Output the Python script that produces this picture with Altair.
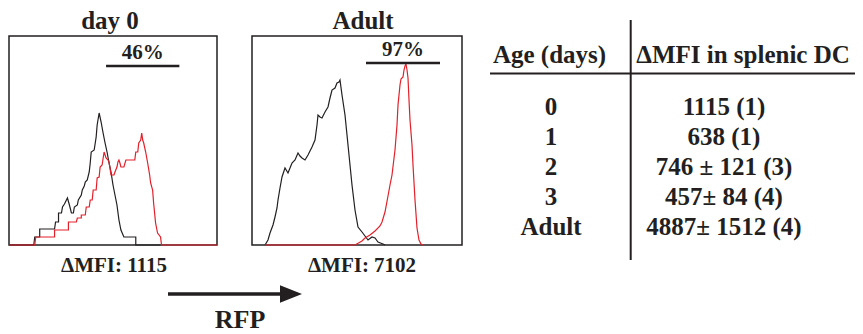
import altair as alt
import pandas as pd

# ---------------- data ----------------
# Histogram panels: x = RFP fluorescence channel (0-210), y = cell count (0-209)
day0_iso_x = [0, 25, 26, 31, 31, 46, 47, 50, 50, 53, 54, 56, 59, 61, 63, 65, 66, 69, 70, 73, 74, 76, 77, 79,
              81, 82, 83, 86, 88, 89, 91, 93, 95, 97, 99, 101, 103, 105, 107, 109, 111, 113, 116, 128, 128, 153]
day0_iso_y = [0, 0, 8, 8, 16, 16, 23, 23, 32, 32, 38, 41, 47, 40, 32, 32, 38, 40, 45, 50, 55, 59, 63, 65,
              73, 82, 93, 95, 108, 120, 132, 123, 112, 102, 93, 82, 73, 60, 50, 40, 25, 15, 8, 8, 0, 0]

day0_rfp_x = [0, 26, 27, 46, 46, 60, 60, 68, 69, 73, 73, 77, 78, 81, 82, 84, 85, 88, 89, 91, 92, 94, 96, 98,
              100, 101, 103, 106, 107, 109, 110, 111, 112, 113, 116, 118, 127, 128, 130, 131, 133, 134, 135,
              136, 138, 140, 142, 143, 145, 146, 148, 150, 153, 154, 210]
day0_rfp_y = [0, 0, 8, 8, 15, 15, 23, 23, 27, 27, 30, 30, 38, 38, 45, 45, 55, 55, 67, 68, 78, 80, 93, 87,
              85, 83, 70, 70, 73, 78, 83, 85, 82, 78, 78, 85, 85, 93, 93, 102, 105, 112, 105,
              102, 93, 82, 70, 62, 55, 42, 22, 12, 8, 0, 0]

adult_iso_x = [13, 16, 18, 21, 23, 25, 26, 28, 30, 33, 36, 38, 40, 43, 46, 48, 50, 53, 56, 58, 60, 63, 65,
               66, 68, 70, 73, 76, 78, 80, 83, 85, 87, 88, 90, 93, 96, 98, 100, 103, 106, 110, 113, 116,
               120, 123, 126, 131, 133]
adult_iso_y = [0, 5, 12, 20, 28, 37, 45, 57, 68, 77, 72, 77, 82, 85, 92, 89, 87, 85, 90, 94, 98, 105, 120,
               130, 128, 127, 133, 138, 147, 155, 157, 162, 163, 165, 150, 130, 100, 80, 60, 35, 18, 13, 9, 5,
               8, 7, 3, 1, 0]

adult_rfp_x = [13, 103, 110, 113, 118, 123, 128, 130, 133, 136, 138, 140, 143, 145, 146, 148, 149, 151, 152,
               153, 154, 155, 156, 157, 158, 160, 161, 163, 165, 167, 169, 171]
adult_rfp_y = [0, 0, 4, 7, 10, 14, 19, 23, 33, 49, 60, 70, 95, 120, 140, 160, 166, 168, 175,
               179, 181, 175, 167, 145, 125, 100, 80, 45, 17, 5, 1, 0]

# Positive gates (channel range, drawn at a count level) and their percentages
gate_start = [98, 114]
gate_end = [172, 188]
gate_level = [179, 182]
gate_pct = ["46%", "97%"]

panel_titles = ["day 0", "Adult"]
panel_dmfi = ["ΔMFI: 1115", "ΔMFI: 7102"]

# Table
table_headers = ["Age (days)", "ΔMFI in splenic DC"]
ages = ["0", "1", "2", "3", "Adult"]
dmfi = ["1115 (1)", "638 (1)", "746 ± 121 (3)", "457± 84 (4)", "4887± 1512 (4)"]

# ---------------- styling ----------------
INK = "#231f20"
RED = "#e3202a"
FONT = "Liberation Serif"
X_DOMAIN = [0, 210]
Y_DOMAIN = [0, 209]


def panel(iso_x, iso_y, rfp_x, rfp_y, gi, x_range):
    xs = alt.Scale(domain=X_DOMAIN, range=x_range, nice=False, zero=False)
    ys = alt.Scale(domain=Y_DOMAIN, range=[237, 28], nice=False, zero=False)
    iso = pd.DataFrame({"x": iso_x, "y": iso_y, "o": range(len(iso_x))})
    rfp = pd.DataFrame({"x": rfp_x, "y": rfp_y, "o": range(len(rfp_x))})
    frame_df = pd.DataFrame({"x0": [X_DOMAIN[0]], "x1": [X_DOMAIN[1]],
                             "y0": [Y_DOMAIN[0]], "y1": [Y_DOMAIN[1]]})
    gate_df = pd.DataFrame({"s": [gate_start[gi]], "e": [gate_end[gi]],
                            "lvl": [gate_level[gi]], "pct": [gate_pct[gi]]})

    frame = alt.Chart(frame_df).mark_rect(fillOpacity=0, stroke=INK, strokeWidth=1.5).encode(
        x=alt.X("x0:Q", scale=xs, axis=None), x2="x1:Q",
        y=alt.Y("y0:Q", scale=ys, axis=None), y2="y1:Q")
    l_iso = alt.Chart(iso).mark_line(color=INK, strokeWidth=1.2).encode(
        x=alt.X("x:Q", scale=xs, axis=None), y=alt.Y("y:Q", scale=ys, axis=None), order="o:Q")
    l_rfp = alt.Chart(rfp).mark_line(color=RED, strokeWidth=1.2).encode(
        x=alt.X("x:Q", scale=xs, axis=None), y=alt.Y("y:Q", scale=ys, axis=None), order="o:Q")
    gate = alt.Chart(gate_df).mark_rule(color=INK, strokeWidth=2.5).encode(
        x=alt.X("s:Q", scale=xs, axis=None), x2="e:Q", y=alt.Y("lvl:Q", scale=ys, axis=None))
    glabel = alt.Chart(gate_df).transform_calculate(mid="(datum.s + datum.e) / 2").mark_text(
        font=FONT, fontWeight="bold", fontSize=21, color=INK, baseline="alphabetic", dy=-7
    ).encode(x=alt.X("mid:Q", scale=xs, axis=None), y=alt.Y("lvl:Q", scale=ys, axis=None), text="pct:N")
    return alt.layer(frame, l_iso, l_rfp, gate, glabel)


one = pd.DataFrame({"k": [0]})


def label(txt, x, y, size, align="center"):
    return alt.Chart(one).mark_text(
        text=txt, font=FONT, fontWeight="bold", fontSize=size, color=INK,
        align=align, baseline="alphabetic"
    ).encode(x=alt.value(x), y=alt.value(y))


p1 = panel(day0_iso_x, day0_iso_y, day0_rfp_x, day0_rfp_y, 0, [1, 209])
p2 = panel(adult_iso_x, adult_iso_y, adult_rfp_x, adult_rfp_y, 1, [244, 454])

titles = [label(panel_titles[0], 102, 21, 25), label(panel_titles[1], 355, 21, 25)]
dmfi_labels = [label(panel_dmfi[0], 106, 264, 21), label(panel_dmfi[1], 354, 264, 21)]

arrow_shaft = alt.Chart(one).mark_rule(color=INK, strokeWidth=3.5).encode(
    x=alt.value(160), x2=alt.value(275), y=alt.value(286))
arrow_head = alt.Chart(one).mark_point(
    shape="M -1 -0.8 L 1 0 L -1 0.8 Z", filled=True, color=INK, opacity=1, size=484, strokeWidth=0
).encode(x=alt.value(283), y=alt.value(286))
rfp_label = label("RFP", 232, 320, 26)

# table
tab_df = pd.DataFrame({"row": range(len(ages)), "age": ages, "dmfi": dmfi})
row_scale = alt.Scale(domain=[0, len(ages) - 1], range=[107, 227], nice=False, zero=False)
tab_age = alt.Chart(tab_df).mark_text(
    font=FONT, fontWeight="bold", fontSize=25, color=INK, baseline="alphabetic"
).encode(x=alt.value(543), y=alt.Y("row:Q", scale=row_scale, axis=None), text="age:N")
tab_val = alt.Chart(tab_df).mark_text(
    font=FONT, fontWeight="bold", fontSize=25, color=INK, baseline="alphabetic"
).encode(x=alt.value(716), y=alt.Y("row:Q", scale=row_scale, axis=None), text="dmfi:N")
head1 = label(table_headers[0], 541.5, 55, 25)
head2 = label(table_headers[1], 735, 55, 25)
vline = alt.Chart(one).mark_rule(color=INK, strokeWidth=2).encode(
    x=alt.value(622.7), y=alt.value(12), y2=alt.value(252))
hline = alt.Chart(one).mark_rule(color=INK, strokeWidth=2).encode(
    x=alt.value(482), x2=alt.value(847), y=alt.value(65.5))

chart = alt.layer(
    p1, p2, *titles, *dmfi_labels, arrow_shaft, arrow_head, rfp_label,
    vline, hline, head1, head2, tab_age, tab_val
).resolve_scale(x="independent", y="independent").properties(
    width=847, height=326, padding=0, autosize=alt.AutoSizeParams(type="none")
).configure_view(stroke=None)

chart.save("out.html", embed_options={"renderer": "svg", "actions": False})
